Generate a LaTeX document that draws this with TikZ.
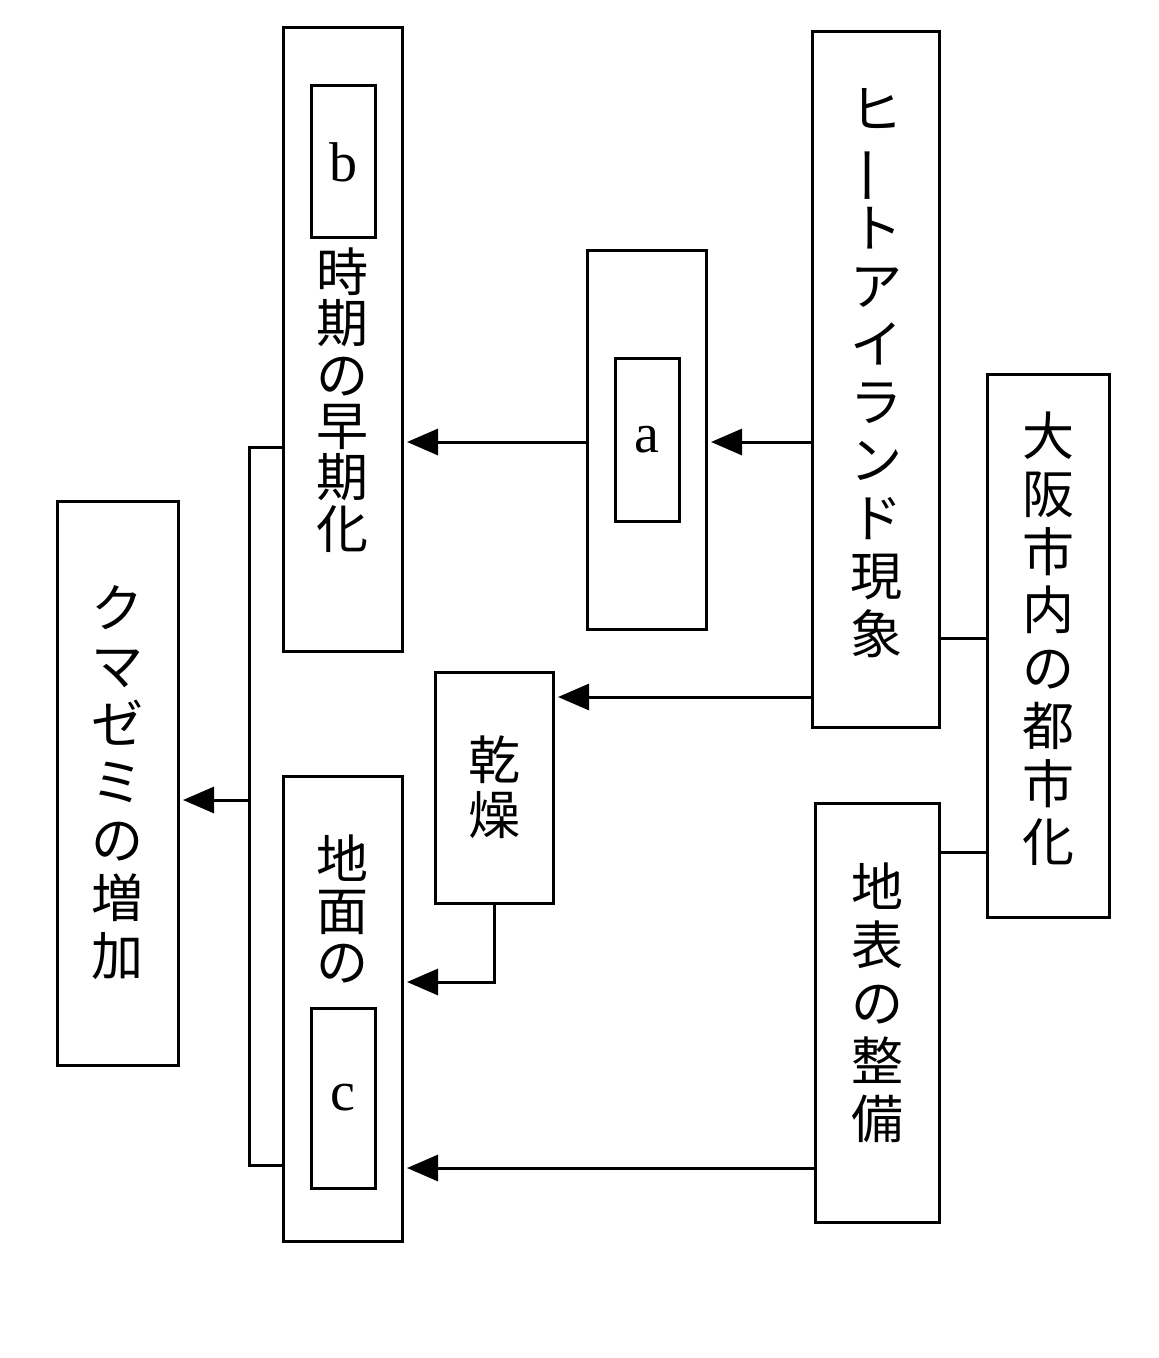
\documentclass[tikz,border=0pt]{standalone}
\usepackage{fontspec}
\setmainfont{Liberation Serif}
\newfontfamily\cjk{Noto Sans CJK JP}
\usetikzlibrary{arrows.meta,fit}
\newcommand\tatebar{\rotatebox[origin=c]{90}{\scalebox{1.15}[1]{ー}}}
\begin{document}
\begin{tikzpicture}[x=0.5pt,y=-0.5pt,
  box/.style={draw, line width=1.5pt, inner sep=0pt, outer sep=0pt},
  jp/.style={align=center, inner sep=0pt, font=\cjk\fontsize{26pt}{29pt}\selectfont},
  jpt/.style={align=center, inner sep=0pt, font=\cjk\fontsize{26pt}{25.7pt}\selectfont},
  lat/.style={inner sep=0pt, font=\fontsize{28pt}{30pt}\selectfont},
  conn/.style={line width=1.5pt},
  arr/.style={conn, -{Triangle[length=15.5pt,width=13pt]}, shorten >=2.5pt}]
\useasboundingbox (0,0) rectangle (1159,1358);
% boxes
\node[box, fit={(283,28) (402,651)}] (time) {};
\node[box, fit={(311,86) (375,238)}] (bbox) {};
\node[box, fit={(587,251) (706,629)}] (abox) {};
\node[box, fit={(615,358) (679,521)}] (ainner) {};
\node[box, fit={(812,32) (939,727)}] (heat) {};
\node[box, fit={(987,374) (1109,917)}] (osaka) {};
\node[box, fit={(57,501) (178,1065)}] (kuma) {};
\node[box, fit={(435,672) (553,903)}] (dry) {};
\node[box, fit={(283,776) (402,1241)}] (ground) {};
\node[box, fit={(311,1008) (375,1188)}] (cbox) {};
\node[box, fit={(815,803) (939,1222)}] (surface) {};
% texts
\node[lat] (tb) at (bbox.center) {b};
\node[lat] (ta) at (ainner.center) {a};
\node[lat] (tc) at (cbox.center) {c};
\node[jpt] (ttime) at (342,400) {時\\期\\の\\早\\期\\化};
\node[jp] (theat) at (876,373) {ヒ\\\tatebar\\ト\\ア\\イ\\ラ\\ン\\ド\\現\\象};
\node[jp] (tosaka) at (1048,639) {大\\阪\\市\\内\\の\\都\\市\\化};
\node[jp] (tkuma) at (117,783) {ク\\マ\\ゼ\\ミ\\の\\増\\加};
\node[jp, font=\cjk\fontsize{26pt}{27.5pt}\selectfont] (tdry) at (494,787) {乾\\燥};
\node[jpt] (tground) at (342,909) {地\\面\\の};
\node[jp] (tsurf) at (877,1003) {地\\表\\の\\整\\備};
% helper coordinates
\coordinate (ya) at (0,442);
\coordinate (yd) at (0,697);
\coordinate (yg) at (0,982);
\coordinate (ys) at (0,1168);
\coordinate (yo1) at (0,638);
\coordinate (yo2) at (0,852);
\coordinate (yt) at (0,447);
\coordinate (yb) at (0,1165);
\coordinate (yk) at (0,800);
\coordinate (xj) at (249,0);
% connectors
\draw[arr] (heat.west |- ya) -- (abox.east |- ya);
\draw[arr] (abox.west |- ya) -- (time.east |- ya);
\draw[arr] (heat.west |- yd) -- (dry.east |- yd);
\draw[arr] (dry.south) -- (dry.south |- yg) -- (ground.east |- yg);
\draw[arr] (surface.west |- ys) -- (ground.east |- ys);
\draw[conn] (osaka.west |- yo1) -- (heat.east |- yo1);
\draw[conn] (osaka.west |- yo2) -- (surface.east |- yo2);
\draw[conn] (time.west |- yt) -- (xj |- yt) -- (xj |- yb) -- (ground.west |- yb);
\draw[arr] (xj |- yk) -- (kuma.east |- yk);
\end{tikzpicture}
\end{document}
